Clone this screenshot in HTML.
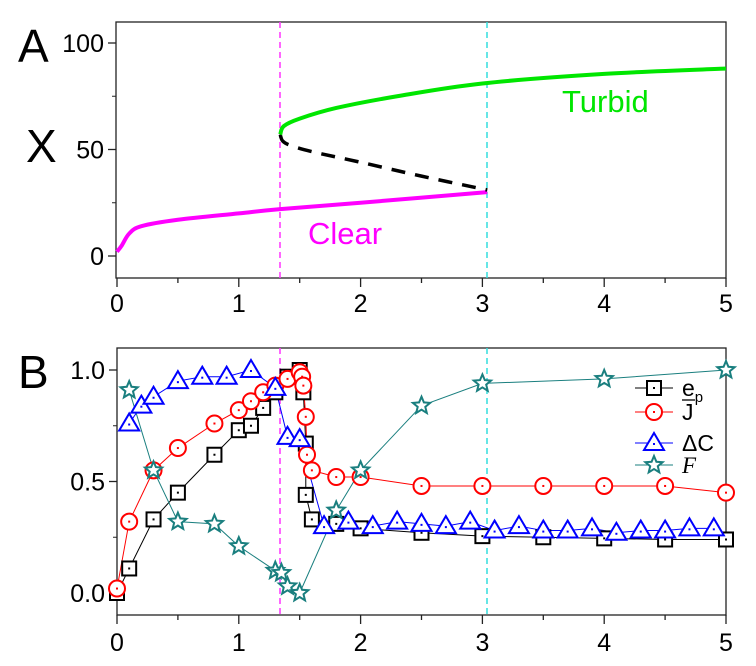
<!DOCTYPE html>
<html><head><meta charset="utf-8"><style>body{margin:0;background:#fff}svg{display:block}text{font-family:"Liberation Sans",sans-serif}</style></head>
<body>
<svg id="s" width="756" height="666" viewBox="0 0 756 666" xmlns="http://www.w3.org/2000/svg"></svg>
<script>
const s=document.getElementById('s');let h='';
const X=x=>117+121.8*x;
const AY=v=>256-2.13*v;
function smooth(pts){let d='M'+pts[0][0]+','+pts[0][1];for(let i=0;i<pts.length-1;i++){const p0=pts[i-1]||pts[i],p1=pts[i],p2=pts[i+1],p3=pts[i+2]||p2;d+=` C${p1[0]+(p2[0]-p0[0])/6},${p1[1]+(p2[1]-p0[1])/6} ${p2[0]-(p3[0]-p1[0])/6},${p2[1]-(p3[1]-p1[1])/6} ${p2[0]},${p2[1]}`;}return d;}
const mp=a=>a.map(p=>[X(p[0]),AY(p[1])]);
h+=`<rect x="116" y="22" width="610" height="256" fill="none" stroke="#222" stroke-width="1.3"/>`;
h+=`<line x1="280" y1="22" x2="280" y2="278" stroke="#ff33ff" stroke-width="1.5" stroke-dasharray="6,4"/>`;
h+=`<line x1="487" y1="22" x2="487" y2="278" stroke="#33dddd" stroke-width="1.5" stroke-dasharray="6,4"/>`;
h+=`<path d="${smooth(mp([[0,2],[0.04,5],[0.1,10.5],[0.2,14],[0.5,17],[1,20],[1.34,22],[2,25],[3.04,30]]))}" fill="none" stroke="#ff00ff" stroke-width="4"/>`;
h+=`<path d="${smooth(mp([[1.34,57],[1.36,54],[1.42,52],[1.6,49],[2,44],[2.5,37.5],[3.04,31]]))}" fill="none" stroke="#000" stroke-width="3.5" stroke-dasharray="14,10"/>`;
h+=`<path d="${smooth(mp([[1.34,57],[1.37,61],[1.5,64.5],[1.8,69.5],[2.3,75],[3,81],[4,85.5],[5,88]]))}" fill="none" stroke="#00e600" stroke-width="4"/>`;
[[0,'0'],[50,'50'],[100,'100']].forEach(([v,t])=>{h+=`<line x1="116" y1="${AY(v)}" x2="108" y2="${AY(v)}" stroke="#222" stroke-width="1.3"/><text x="104" y="${AY(v)+9}" font-size="25" text-anchor="end">${t}</text>`});
[25,75].forEach(v=>h+=`<line x1="116" y1="${AY(v)}" x2="112" y2="${AY(v)}" stroke="#222"/>`);
for(let i=0;i<=10;i++){const x=X(i/2);h+=`<line x1="${x}" y1="278" x2="${x}" y2="${i%2?283:287}" stroke="#222" stroke-width="1.3"/>`;if(i%2==0)h+=`<text x="${x}" y="312" font-size="25" text-anchor="middle">${i/2}</text>`;}
h+=`<text x="18" y="62" font-size="46">A</text><text x="26" y="162" font-size="46">X</text>`;
h+=`<text x="562" y="112" font-size="31" fill="#00e600">Turbid</text><text x="308" y="244" font-size="31" fill="#ff00ff">Clear</text>`;
const BY=v=>593-223*v;
h+=`<rect x="117" y="348" width="609" height="267" fill="none" stroke="#222" stroke-width="1.3"/>`;
h+=`<line x1="280" y1="348" x2="280" y2="615" stroke="#ff33ff" stroke-width="1.5" stroke-dasharray="6,4"/>`;
h+=`<line x1="487" y1="348" x2="487" y2="615" stroke="#33dddd" stroke-width="1.5" stroke-dasharray="6,4"/>`;
[[0,'0.0'],[0.5,'0.5'],[1,'1.0']].forEach(([v,t])=>{h+=`<line x1="117" y1="${BY(v)}" x2="109" y2="${BY(v)}" stroke="#222" stroke-width="1.3"/><text x="105" y="${BY(v)+9}" font-size="25" text-anchor="end">${t}</text>`});
[0.25,0.75].forEach(v=>h+=`<line x1="117" y1="${BY(v)}" x2="113" y2="${BY(v)}" stroke="#222"/>`);
for(let i=0;i<=10;i++){const x=X(i/2);h+=`<line x1="${x}" y1="615" x2="${x}" y2="${i%2?620:624}" stroke="#222" stroke-width="1.3"/>`;if(i%2==0)h+=`<text x="${x}" y="651" font-size="25" text-anchor="middle">${i/2}</text>`;}
h+=`<text x="18" y="388" font-size="46">B</text>`;
const mk={
sq:(x,y,c)=>`<rect x="${x-7}" y="${y-7}" width="14" height="14" fill="#fff" stroke="${c}" stroke-width="2"/><rect x="${x-1}" y="${y-1}" width="2" height="2" fill="${c}"/>`,
ci:(x,y,c)=>`<circle cx="${x}" cy="${y}" r="8" fill="#fff" stroke="${c}" stroke-width="2"/><rect x="${x-1}" y="${y-1}" width="2" height="2" fill="${c}"/>`,
tr:(x,y,c)=>`<polygon points="${x},${y-10} ${x+10},${y+7} ${x-10},${y+7}" fill="#fff" stroke="${c}" stroke-width="2"/><rect x="${x-1}" y="${y}" width="2" height="2" fill="${c}"/>`,
st:(x,y,c)=>{let p=[];for(let k=0;k<10;k++){const r=k%2?4:9,a=-Math.PI/2+k*Math.PI/5;p.push((x+r*Math.cos(a)).toFixed(1)+','+(y+r*Math.sin(a)).toFixed(1));}return `<polygon points="${p.join(' ')}" fill="#fff" stroke="${c}" stroke-width="2"/>`;}
};
const series=[
['sq','#000',[[0,0],[0.1,0.11],[0.3,0.33],[0.5,0.45],[0.8,0.62],[1,0.73],[1.1,0.75],[1.2,0.83],[1.3,0.9],[1.4,0.97],[1.5,1.0],[1.53,0.9],[1.55,0.67],[1.55,0.44],[1.6,0.33],[1.8,0.31],[2,0.29],[2.5,0.27],[3,0.255],[3.5,0.25],[4,0.245],[4.5,0.24],[5,0.24]]],
['ci','#ff0000',[[0,0.02],[0.1,0.32],[0.3,0.55],[0.5,0.65],[0.8,0.76],[1,0.82],[1.1,0.86],[1.2,0.9],[1.3,0.93],[1.4,0.96],[1.5,0.99],[1.52,0.97],[1.53,0.93],[1.55,0.79],[1.56,0.62],[1.6,0.55],[1.8,0.52],[2,0.52],[2.5,0.48],[3,0.48],[3.5,0.48],[4,0.48],[4.5,0.48],[5,0.45]]],
['tr','#0000ff',[[0.1,0.76],[0.2,0.84],[0.3,0.88],[0.5,0.95],[0.7,0.97],[0.9,0.97],[1.1,1.0],[1.3,0.92],[1.4,0.7],[1.5,0.69],[1.7,0.3],[1.9,0.32],[2.1,0.3],[2.3,0.32],[2.5,0.31],[2.7,0.3],[2.9,0.32],[3.1,0.28],[3.3,0.3],[3.5,0.28],[3.7,0.28],[3.9,0.29],[4.1,0.27],[4.3,0.28],[4.5,0.28],[4.7,0.29],[4.9,0.29]]],
['st','#1a7f7f',[[0.1,0.91],[0.3,0.55],[0.5,0.32],[0.8,0.31],[1,0.21],[1.3,0.1],[1.35,0.09],[1.4,0.03],[1.5,0],[1.8,0.37],[2,0.55],[2.5,0.84],[3,0.94],[4,0.96],[5,1.0]]]];
series.forEach(([m,c,d])=>{h+=`<polyline points="${d.map(p=>X(p[0])+','+BY(p[1])).join(' ')}" fill="none" stroke="${c}" stroke-width="1"/>`;});
series.forEach(([m,c,d])=>{d.forEach(p=>h+=mk[m](X(p[0]),BY(p[1]),c));});
const lg=[['sq','#000',388,'e<tspan font-size="15" dy="6">p</tspan>'],['ci','#ff0000',412,'J'],['tr','#0000ff',443,'ΔC'],['st','#1a7f7f',465,'<tspan font-family="Liberation Serif" font-style="italic">F</tspan>']];
lg.forEach(([m,c,y,t])=>{h+=`<line x1="635" y1="${y}" x2="673" y2="${y}" stroke="${c}"/>`+mk[m](654,y,c)+`<text x="682" y="${y+8}" font-size="23">${t}</text>`;});
h+=`<line x1="682" y1="400" x2="695" y2="400" stroke="#000" stroke-width="1.3"/>`;
s.innerHTML=h;
</script>
</body></html>
